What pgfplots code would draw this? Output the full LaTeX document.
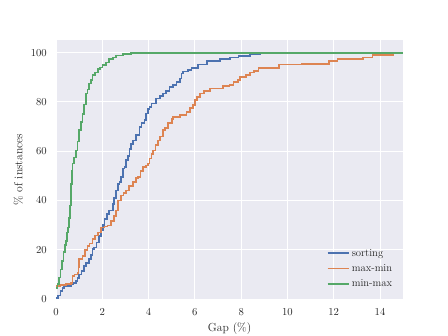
\documentclass[border=0pt]{standalone}
\usepackage{pgfplots}
\pgfplotsset{compat=1.18}
\definecolor{sbblue}{RGB}{76,114,176}
\definecolor{sborange}{RGB}{221,132,82}
\definecolor{sbgreen}{RGB}{85,168,104}
\definecolor{axbg}{RGB}{234,234,242}
\definecolor{txt}{gray}{0.15}

\begin{document}
\begin{tikzpicture}
\path[use as bounding box] (0,0) rectangle (460.8pt,345.6pt);
\begin{axis}[at={(57.6pt,38pt)}, anchor=south west, scale only axis,
  width=357.1pt, height=266.1pt,
  xmin=0, xmax=15, ymin=0, ymax=105,
  xtick={0,2,...,14}, ytick={0,20,...,100},
  axis background/.style={fill=axbg},
  axis line style={draw=none},
  major tick length=0pt,
  grid=major, grid style={white, line width=1pt},
  tick label style={font=\fontsize{11}{13}\selectfont, text=txt},
  xticklabel shift=6pt, yticklabel shift=6pt,
  label style={font=\fontsize{12}{14}\selectfont, text=txt},
  xlabel={Gap (\%)}, ylabel={\% of instances},
  xlabel style={yshift=-1pt}, ylabel style={yshift=1pt},
  legend style={at={(0.983,0.027)}, anchor=south east, draw=none, fill=none,
    font=\fontsize{11}{13}\selectfont, text=txt, row sep=3pt},
  legend cell align=left,
  legend image code/.code={\draw[#1] (0pt,0pt) -- (22pt,0pt);}]
\addplot[sbblue, line width=1.75pt, const plot, no markers] coordinates {(0,0.5)(0.1,1.5)(0.2,3.3)(0.28,4.5)(0.35,5.3)(0.64,6)(0.75,6.6)(0.86,7.3)(0.93,8.5)(1.0,10)(1.1,11.5)(1.22,13.5)(1.3,14.5)(1.43,16.2)(1.52,18)(1.58,20.3)(1.65,20.9)(1.75,23)(1.87,25.7)(1.95,28)(2.02,30)(2.09,32.5)(2.2,34.5)(2.3,35.9)(2.45,38.6)(2.52,41)(2.6,44)(2.67,46.8)(2.74,47.5)(2.81,49.5)(2.88,53)(2.96,53.5)(3.03,56.3)(3.1,58)(3.18,61)(3.25,63)(3.32,64.4)(3.45,66.5)(3.61,69.8)(3.7,71.5)(3.83,72.6)(3.9,75.3)(3.97,77)(4.04,78)(4.12,79.4)(4.33,81.4)(4.5,82.5)(4.62,83.4)(4.75,84.5)(4.91,86.1)(5.05,87)(5.2,88.2)(5.35,89.5)(5.42,91.6)(5.49,92.3)(5.7,93)(5.86,93.9)(6.14,95.2)(6.51,96.6)(7.09,97.3)(7.52,98)(7.88,98.6)(8.39,99.3)(8.83,99.7)(8.95,100)(15,100)};
\addplot[sborange, line width=1.75pt, const plot, no markers] coordinates {(0,5.3)(0.2,5.6)(0.42,6)(0.64,6.6)(0.71,9.4)(0.8,10)(0.93,10.7)(0.97,13)(1.0,16.2)(1.14,17.5)(1.25,20)(1.36,21.6)(1.45,22.5)(1.58,24.3)(1.7,25.8)(1.8,27)(1.94,29)(2.1,29.5)(2.23,29.8)(2.38,31.8)(2.52,33.8)(2.6,36)(2.67,40)(2.81,42)(2.92,43)(3.03,44)(3.15,46)(3.32,47.4)(3.45,49)(3.54,49.5)(3.65,52)(3.75,53.5)(3.9,54.2)(3.97,55)(4.04,57)(4.12,59)(4.19,60.3)(4.3,62.5)(4.4,64.4)(4.5,66)(4.62,68.5)(4.7,69.5)(4.85,71.5)(5.0,73)(5.06,73.9)(5.35,74.6)(5.64,76)(5.8,77.5)(5.93,78.7)(6.0,80.7)(6.1,82)(6.22,83.4)(6.4,84.5)(6.65,85.5)(7.23,86.4)(7.5,87)(7.67,88.2)(7.85,89)(7.96,90.2)(8.2,91)(8.39,91.9)(8.55,92.5)(8.75,93.9)(9.62,95.2)(10.64,95.5)(11.8,96.6)(12.16,97.3)(13.25,98)(13.68,99)(14.55,99.7)(14.95,100)(15,100)};
\addplot[sbgreen, line width=1.75pt, const plot, no markers] coordinates {(0,4.6)(0.06,6)(0.13,8.7)(0.2,12)(0.27,15.5)(0.33,19)(0.38,22)(0.42,23.6)(0.47,27)(0.52,29)(0.57,33)(0.6,38)(0.64,46.8)(0.68,52)(0.71,55)(0.78,57.5)(0.86,60.3)(0.93,64)(1.0,68.5)(1.07,72)(1.15,75)(1.22,79)(1.29,83.4)(1.36,85)(1.43,87.5)(1.5,89)(1.58,90.9)(1.7,92)(1.8,93.5)(1.9,94)(2.01,95)(2.15,96)(2.3,97.3)(2.45,98)(2.6,98.8)(2.9,99.4)(3.25,100)(15,100)};
\legend{sorting, max-min, min-max}
\end{axis}
\end{tikzpicture}
\end{document}
